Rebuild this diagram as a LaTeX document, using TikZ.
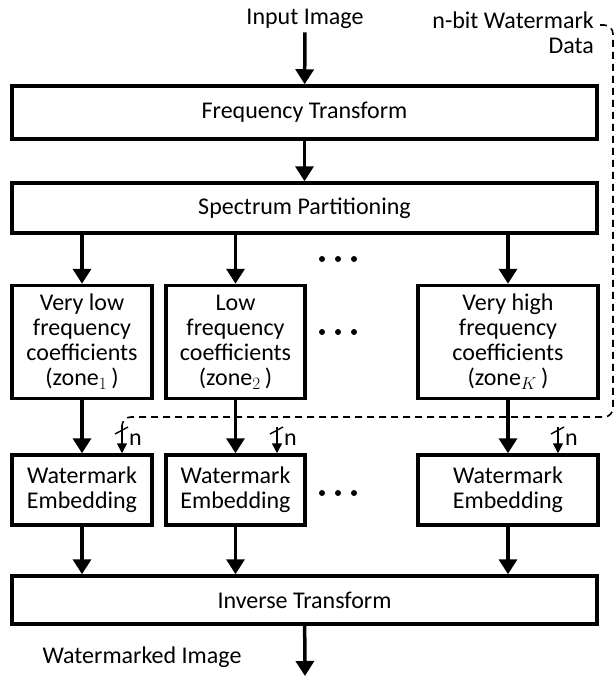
\documentclass[tikz,border=0pt]{standalone}
\usepackage{fontspec}
\setmainfont{Carlito}
\usepackage{tikz}
\usetikzlibrary{positioning}
\usetikzlibrary{arrows.meta}
\tikzset{my_flow/.style={x=1pt,y=-1pt,font=\fontsize{24}{25}\selectfont}}
\tikzset{my_block/.style={draw, line width=3.5pt, align=center, inner sep=0pt}}
\tikzset{my_arrow/.style={-{Triangle[width=18pt,length=15pt]}, line width=3.5pt}}
\tikzset{my_tap/.style={-{Triangle[width=10pt,length=10pt]}, line width=1.6pt}}
\tikzset{my_data/.style={dash pattern=on 7pt off 5pt, line width=1.6pt, rounded corners=9pt}}

\begin{document}
\begin{tikzpicture}[my_flow]
    \useasboundingbox (0,0) rectangle (616,678);
    %\draw[help lines] (0,0) grid[step=50] (616,678);
    \node (in) at (305,19) {Input Image};
    \node[align=right, anchor=north east, inner sep=0pt] (wm) at (594,12) {n-bit Watermark\\Data};
    \node[my_block, minimum width=585, minimum height=53] (ft) at (304.5,112.5) {Frequency Transform};
    \node[my_block, minimum width=585, minimum height=50] (sp) at (304.5,208) {Spectrum Partitioning};

    \node[my_block, minimum width=140, minimum height=113] (z1) at (82,342) {Very low\\frequency\\coefficients\\(zone$_1\,$)};
    \node[my_block, minimum width=139, minimum height=113] (z2) at (235.5,342) {Low\\frequency\\coefficients\\(zone$_2\,$)};
    \node[my_block, minimum width=180, minimum height=113] (zk) at (508,342) {Very high\\frequency\\coefficients\\(zone$_K\,$)};

    \node[my_block, minimum width=140, minimum height=70] (e1) at (82,490) {Watermark\\Embedding};
    \node[my_block, minimum width=139, minimum height=70] (e2) at (235.5,490) {Watermark\\Embedding};
    \node[my_block, minimum width=180, minimum height=70] (ek) at (508,490) {Watermark\\Embedding};

    \node[my_block, minimum width=585, minimum height=48] (inv) at (304.5,600) {Inverse Transform};
    \node (out) at (142,657) {Watermarked Image};

    \coordinate (d0) at (600,25);
    \coordinate (t1) at (122,427);
    \coordinate (t2) at (277,427);
    \coordinate (tk) at (558,427);
    \coordinate (end) at (305,676);

    % dashed watermark data line
    \draw[my_data] (d0) -| (613,417) -- (122,417) -- (t1);

    \draw[my_arrow] (in) -- (ft);
    \draw[my_arrow] (ft) -- (sp);
    \draw[my_arrow] (sp.south -| z1) -- (z1);
    \draw[my_arrow] (sp.south -| z2) -- (z2);
    \draw[my_arrow] (sp.south -| zk) -- (zk);
    \draw[my_arrow] (z1) -- (e1);
    \draw[my_arrow] (z2) -- (e2);
    \draw[my_arrow] (zk) -- (ek);
    \draw[my_arrow] (e1) -- (e1 |- inv.north);
    \draw[my_arrow] (e2) -- (e2 |- inv.north);
    \draw[my_arrow] (ek) -- (ek |- inv.north);
    \draw[my_arrow] (inv) -- (end);

    \draw[my_tap] (t1) -- node[right=3pt] {n} (t1 |- e1.north);
    \draw[my_tap] (t2) -- node[right=3pt] {n} (t2 |- e2.north);
    \draw[my_tap] (tk) -- node[right=3pt] {n} (tk |- ek.north);
    \foreach \t in {t1,t2,tk}
        \draw[line width=1.4pt] ([shift={(-7,7)}]\t) -- ++(13,-7);

    \foreach \y in {259,332,493}
        \foreach \x in {322,338,354}
            \fill (\x,\y) circle (3pt);
\end{tikzpicture}
\end{document}
